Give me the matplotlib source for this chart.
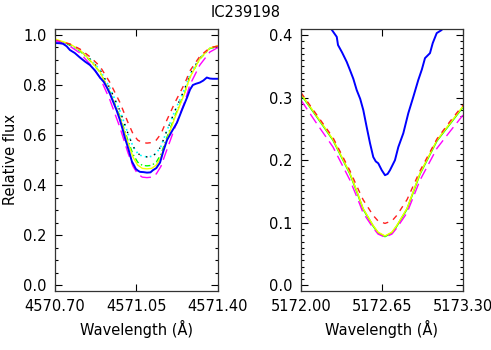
import matplotlib
matplotlib.use("Agg")
import matplotlib.pyplot as plt
from matplotlib.ticker import MultipleLocator

# ---- left panel (4571 A line) ----
lam_obs_l = [4570.700, 4570.720, 4570.734, 4570.750, 4570.764, 4570.785, 4570.807, 4570.830,
             4570.850, 4570.872, 4570.893, 4570.910, 4570.923, 4570.936, 4570.949, 4570.965,
             4570.979, 4570.990, 4571.000, 4571.015, 4571.030, 4571.040, 4571.047, 4571.056,
             4571.065, 4571.080, 4571.095, 4571.110, 4571.121, 4571.135, 4571.151, 4571.165,
             4571.181, 4571.200, 4571.224, 4571.245, 4571.267, 4571.280, 4571.292, 4571.305,
             4571.322, 4571.337, 4571.352, 4571.365, 4571.378, 4571.400]
flux_obs_l = [0.968, 0.967, 0.965, 0.955, 0.940, 0.928, 0.910, 0.893,
              0.880, 0.858, 0.830, 0.812, 0.790, 0.765, 0.735, 0.698,
              0.660, 0.625, 0.590, 0.545, 0.495, 0.478, 0.465, 0.458,
              0.453, 0.452, 0.450, 0.451, 0.460, 0.468, 0.490, 0.535,
              0.580, 0.612, 0.650, 0.700, 0.750, 0.782, 0.800, 0.805,
              0.810, 0.818, 0.830, 0.826, 0.825, 0.825]

lam_mod_l = [4570.700, 4570.764, 4570.807, 4570.850, 4570.893, 4570.936, 4570.979, 4571.013,
             4571.035, 4571.055, 4571.075, 4571.095, 4571.115, 4571.135, 4571.155, 4571.176,
             4571.215, 4571.258, 4571.279, 4571.322, 4571.365, 4571.400]
yellow_l = [0.984, 0.964, 0.940, 0.900, 0.853, 0.770, 0.670, 0.570, 0.512, 0.480, 0.467,
            0.465, 0.467, 0.480, 0.512, 0.570, 0.670, 0.770, 0.830, 0.905, 0.948, 0.957]
red_l = [0.979, 0.964, 0.944, 0.913, 0.875, 0.810, 0.730, 0.651, 0.605, 0.580, 0.570,
         0.568, 0.570, 0.580, 0.605, 0.651, 0.730, 0.808, 0.856, 0.915, 0.949, 0.956]
cyan_l = [0.979, 0.961, 0.939, 0.904, 0.861, 0.787, 0.697, 0.607, 0.555, 0.527, 0.515,
          0.513, 0.515, 0.527, 0.555, 0.607, 0.697, 0.787, 0.841, 0.908, 0.947, 0.955]
green_l = [0.979, 0.960, 0.936, 0.898, 0.852, 0.772, 0.675, 0.579, 0.523, 0.492, 0.479,
           0.477, 0.479, 0.492, 0.523, 0.579, 0.676, 0.773, 0.831, 0.904, 0.946, 0.954]
magenta_l = [0.978, 0.955, 0.928, 0.884, 0.830, 0.740, 0.630, 0.530, 0.475, 0.445, 0.432,
             0.430, 0.432, 0.445, 0.475, 0.530, 0.630, 0.735, 0.800, 0.880, 0.932, 0.950]

# ---- right panel (Mg b 5172 A) ----
lam_obs_r = [5172.000, 5172.100, 5172.200, 5172.241, 5172.287, 5172.297, 5172.330, 5172.367,
             5172.393, 5172.420, 5172.447, 5172.475, 5172.500, 5172.527, 5172.554, 5172.580,
             5172.600, 5172.620, 5172.648, 5172.674, 5172.695, 5172.714, 5172.754, 5172.781,
             5172.821, 5172.861, 5172.901, 5172.941, 5172.970, 5172.995, 5173.035, 5173.057,
             5173.089, 5173.129, 5173.200, 5173.300]
flux_obs_r = [0.600, 0.520, 0.450, 0.410, 0.397, 0.384, 0.372, 0.357,
              0.344, 0.330, 0.312, 0.298, 0.280, 0.253, 0.227, 0.205,
              0.198, 0.195, 0.184, 0.176, 0.178, 0.184, 0.200, 0.221,
              0.243, 0.275, 0.301, 0.328, 0.345, 0.363, 0.371, 0.387,
              0.403, 0.408, 0.450, 0.550]

lam_mod_r = [5172.000, 5172.128, 5172.257, 5172.393, 5172.449, 5172.498, 5172.578, 5172.618,
             5172.674, 5172.730, 5172.770, 5172.851, 5172.955, 5173.091, 5173.196, 5173.300]
yellow_r = [0.306, 0.270, 0.233, 0.179, 0.150, 0.123, 0.096, 0.085,
            0.079, 0.085, 0.096, 0.123, 0.179, 0.232, 0.259, 0.286]
red_r = [0.308, 0.272, 0.236, 0.183, 0.158, 0.137, 0.112, 0.103,
         0.099, 0.103, 0.112, 0.137, 0.183, 0.234, 0.262, 0.288]
green_r = [0.305, 0.269, 0.232, 0.178, 0.149, 0.122, 0.095, 0.084,
           0.078, 0.084, 0.095, 0.122, 0.178, 0.231, 0.258, 0.285]
magenta_r = [0.296, 0.258, 0.221, 0.168, 0.141, 0.116, 0.092, 0.082,
             0.077, 0.082, 0.092, 0.116, 0.168, 0.219, 0.246, 0.272]

xticks_l = [4570.70, 4571.05, 4571.40]
xticks_r = [5172.00, 5172.65, 5173.30]

fs = 10.5
fig = plt.figure(figsize=(4.91, 3.5), dpi=100)
ax1 = fig.add_axes([0.112, 0.1686, 0.332, 0.7486])
ax2 = fig.add_axes([0.613, 0.1686, 0.330, 0.7486])

# left panel curves
ax1.plot(lam_mod_l, green_l, color="#00ff00", lw=1.0, linestyle=(0, (4, 2, 1, 2)))
ax1.plot(lam_mod_l, cyan_l, color="#00ffff", lw=1.2, linestyle=(0, (1, 2)))
ax1.plot(lam_mod_l, cyan_l, color="black", lw=1.0, linestyle=(1.5, (1, 5)))
ax1.plot(lam_mod_l, yellow_l, color="#f0ff00", lw=1.0)
ax1.plot(lam_mod_l, red_l, color="#ff2020", lw=1.0, linestyle=(0, (4, 4)))
ax1.plot(lam_mod_l, magenta_l, color="#ff00ff", lw=1.0, linestyle=(0, (8, 4)))
ax1.plot(lam_obs_l, flux_obs_l, color="#0000ff", lw=1.4)

# right panel curves
ax2.plot(lam_mod_r, green_r, color="#00ff00", lw=1.2)
ax2.plot(lam_mod_r, magenta_r, color="#ff00ff", lw=1.0, linestyle=(0, (8, 4)))
ax2.plot(lam_mod_r, yellow_r, color="#f0ff00", lw=1.0)
ax2.plot(lam_mod_r, red_r, color="#ff2020", lw=1.0, linestyle=(0, (4, 4)))
ax2.plot(lam_obs_r, flux_obs_r, color="#0000ff", lw=1.4)

ax1.set_xlim(4570.70, 4571.40)
ax1.set_ylim(-0.023, 1.024)
ax1.set_xticks(xticks_l)
ax1.set_xticklabels(["%.2f" % t for t in xticks_l])
ax1.yaxis.set_major_locator(MultipleLocator(0.2))
ax1.yaxis.set_minor_locator(MultipleLocator(0.05))
ax1.yaxis.set_major_formatter(plt.FuncFormatter(lambda v, p: "%.1f" % v))
ax1.set_ylabel("Relative flux", fontsize=fs)

ax2.set_xlim(5172.00, 5173.30)
ax2.set_ylim(-0.009, 0.4096)
ax2.set_xticks(xticks_r)
ax2.set_xticklabels(["%.2f" % t for t in xticks_r])
ax2.yaxis.set_major_locator(MultipleLocator(0.1))
ax2.yaxis.set_minor_locator(MultipleLocator(0.01))
ax2.yaxis.set_major_formatter(plt.FuncFormatter(lambda v, p: "%.1f" % v))

for ax in (ax1, ax2):
    ax.set_xlabel("Wavelength (Å)", fontsize=fs)
    ax.tick_params(which="both", direction="in", top=True, right=True,
                   labelsize=fs, pad=6)
    ax.tick_params(which="major", length=5, width=0.8)
    ax.tick_params(which="minor", length=2.5, width=0.8)
    ax.tick_params(axis="x", which="minor", bottom=False, top=False)
    for s in ax.spines.values():
        s.set_linewidth(0.9)
        s.set_color("#333333")

fig.text(0.5, 0.965, "IC239198", ha="center", va="center", fontsize=fs)

fig.savefig("out.png", dpi=100)
